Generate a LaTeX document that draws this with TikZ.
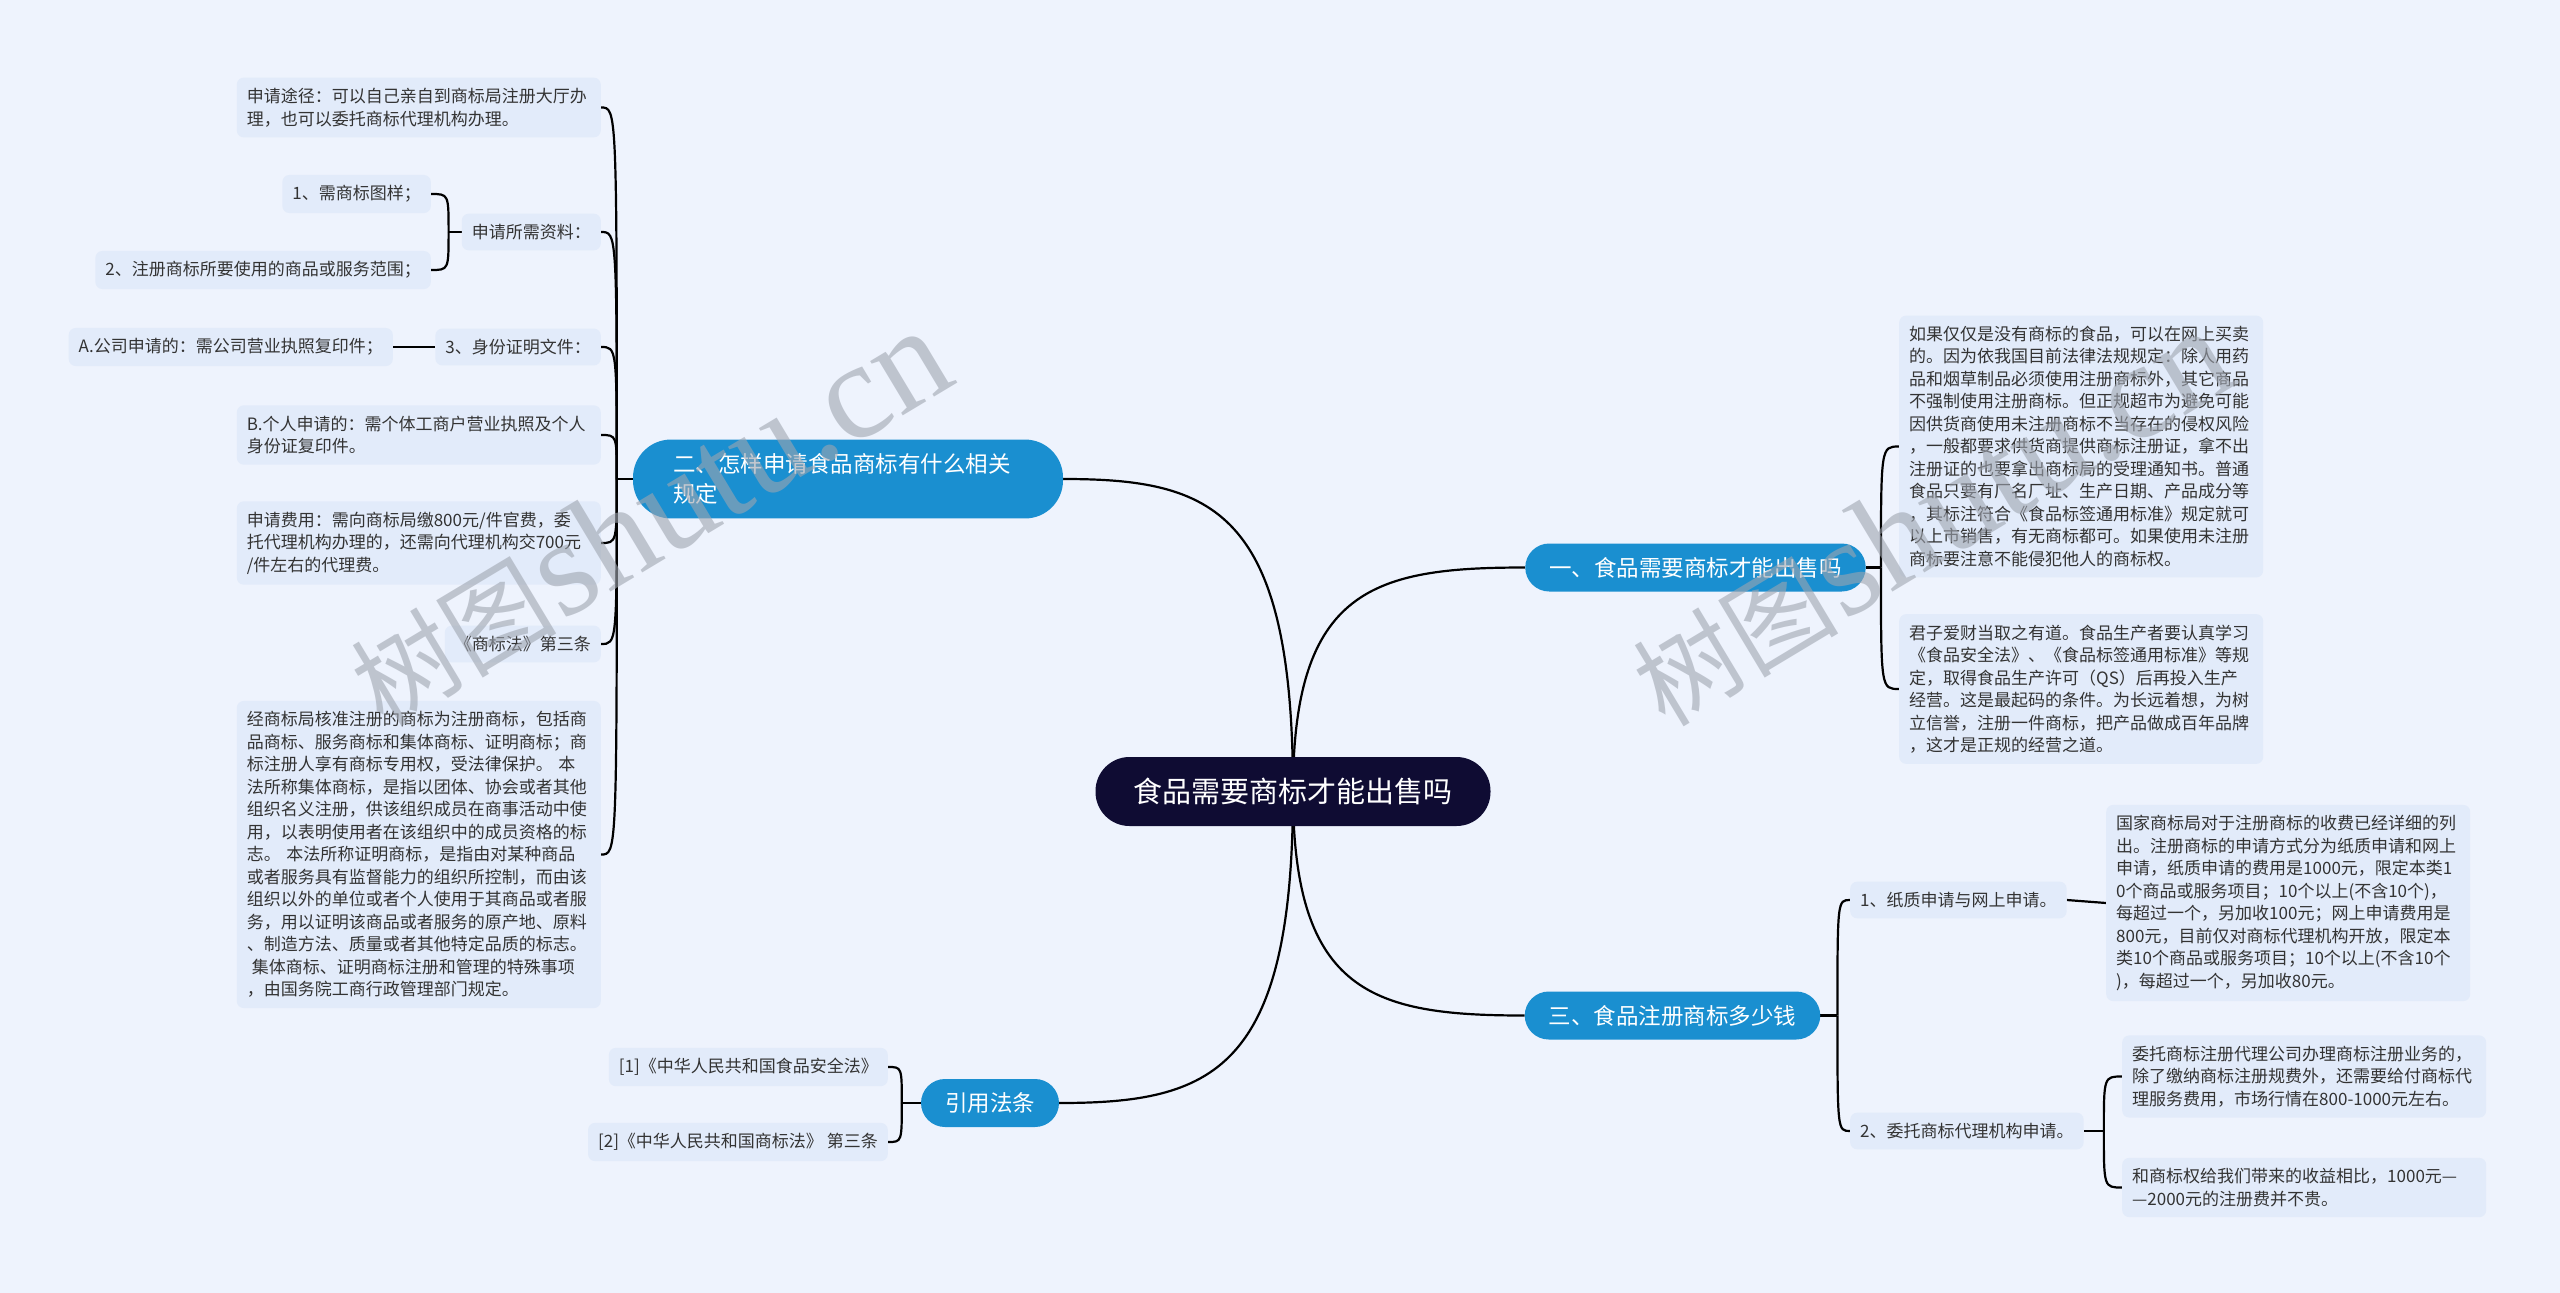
\documentclass[tikz,border=0pt]{standalone}
\usepackage{fontspec}
\setmainfont{Noto Sans CJK SC}
\newfontfamily\marcafont{Liberation Serif}
\usetikzlibrary{positioning,backgrounds}

\definecolor{fondo}{HTML}{EEF3FD}
\definecolor{hojafill}{HTML}{E2EBFA}
\definecolor{ramafill}{HTML}{1A8FD0}
\definecolor{raizfill}{HTML}{0F0C33}
\definecolor{texto}{HTML}{333333}
\definecolor{marca}{HTML}{9FA5B0}

\tikzset{
  raiz/.style={fill=raizfill, text=white, rounded corners=34pt, minimum height=69pt, inner xsep=38pt, font=\fontsize{29}{34}\selectfont},
  rama/.style={fill=ramafill, text=white, rounded corners=24pt, minimum height=48pt, inner xsep=24pt, font=\fontsize{22.5}{30}\selectfont},
  hoja/.style={fill=hojafill, text=texto, rounded corners=7pt, inner xsep=10pt, inner ysep=10.5pt, align=left, font=\fontsize{17}{22.5}\selectfont},
  hojaancha/.style={hoja, text width=344pt},
  conector/.style={line width=2.2pt, black},
  marcaagua/.style={rotate=31, text=marca, opacity=0.6, inner sep=0pt},
}

\begin{document}
\begin{tikzpicture}[x=1pt, y=-1pt]
  \useasboundingbox (0,0) rectangle (2560,1293);

  % Nodo central
  \node[raiz] (raiz) at (1293,791.5) {食品需要商标才能出售吗};

  % Ramas principales
  \node[rama, text width=350pt, inner xsep=40pt, inner ysep=14pt, rounded corners=38pt] (rama2) at (848,479) {二、怎样申请食品商标有什么相关\\规定};
  \node[rama] (rama1) at (1695.5,567.5) {一、食品需要商标才能出售吗};
  \node[rama] (rama3) at (1672.5,1015.5) {三、食品注册商标多少钱};
  \node[rama] (rama4) at (990,1103) {引用法条};

  % Hojas de la rama dos
  \node[hojaancha, anchor=east] (l1) at (601,107.5) {申请途径：可以自己亲自到商标局注册大厅办\\理，也可以委托商标代理机构办理。};
  \node[hoja, anchor=east] (l2) at (601,232) {申请所需资料：};
  \node[hoja, anchor=east] (l2a) at (431,194) {1、需商标图样；};
  \node[hoja, anchor=east] (l2b) at (431,270) {2、注册商标所要使用的商品或服务范围；};
  \node[hoja, anchor=east] (l3) at (601,347) {3、身份证明文件：};
  \node[hoja, anchor=east] (l3a) at (393,347) {A.公司申请的：需公司营业执照复印件；};
  \node[hojaancha, anchor=east] (l4) at (601,435) {B.个人申请的：需个体工商户营业执照及个人\\身份证复印件。};
  \node[hojaancha, anchor=east] (l5) at (601,543) {申请费用：需向商标局缴800元/件官费，委\\托代理机构办理的，还需向代理机构交700元\\/件左右的代理费。};
  \node[hoja, anchor=east] (l6) at (601,644) {《商标法》第三条};
  \node[hojaancha, anchor=east] (l7) at (601,854.5) {经商标局核准注册的商标为注册商标，包括商\\品商标、服务商标和集体商标、证明商标；商\\标注册人享有商标专用权，受法律保护。 本\\法所称集体商标，是指以团体、协会或者其他\\组织名义注册，供该组织成员在商事活动中使\\用，以表明使用者在该组织中的成员资格的标\\志。 本法所称证明商标，是指由对某种商品\\或者服务具有监督能力的组织所控制，而由该\\组织以外的单位或者个人使用于其商品或者服\\务，用以证明该商品或者服务的原产地、原料\\、制造方法、质量或者其他特定品质的标志。\\\hspace*{5pt}集体商标、证明商标注册和管理的特殊事项\\，由国务院工商行政管理部门规定。};

  % Hojas de la rama uno
  \node[hojaancha, anchor=west] (r1a) at (1899,446.5) {如果仅仅是没有商标的食品，可以在网上买卖\\的。因为依我国目前法律法规规定：除人用药\\品和烟草制品必须使用注册商标外，其它商品\\不强制使用注册商标。但正规超市为避免可能\\因供货商使用未注册商标不当存在的侵权风险\\，一般都要求供货商提供商标注册证，拿不出\\注册证的也要拿出商标局的受理通知书。普通\\食品只要有厂名厂址、生产日期、产品成分等\\，其标注符合《食品标签通用标准》规定就可\\以上市销售，有无商标都可。如果使用未注册\\商标要注意不能侵犯他人的商标权。};
  \node[hojaancha, anchor=west] (r1b) at (1899,689) {君子爱财当取之有道。食品生产者要认真学习\\《食品安全法》、《食品标签通用标准》等规\\定，取得食品生产许可（QS）后再投入生产\\经营。这是最起码的条件。为长远着想，为树\\立信誉，注册一件商标，把产品做成百年品牌\\，这才是正规的经营之道。};

  % Hojas de la rama tres
  \node[hoja, anchor=west] (r3a) at (1850,900) {1、纸质申请与网上申请。};
  \node[hojaancha, anchor=west] (r3a1) at (2106,903) {国家商标局对于注册商标的收费已经详细的列\\出。注册商标的申请方式分为纸质申请和网上\\申请，纸质申请的费用是1000元，限定本类1\\0个商品或服务项目；10个以上(不含10个)，\\每超过一个，另加收100元；网上申请费用是\\800元，目前仅对商标代理机构开放，限定本\\类10个商品或服务项目；10个以上(不含10个\\)，每超过一个，另加收80元。};
  \node[hoja, anchor=west] (r3b) at (1850,1131) {2、委托商标代理机构申请。};
  \node[hojaancha, anchor=west] (r3b1) at (2122,1076.5) {委托商标注册代理公司办理商标注册业务的，\\除了缴纳商标注册规费外，还需要给付商标代\\理服务费用，市场行情在800-1000元左右。};
  \node[hojaancha, anchor=west] (r3b2) at (2122,1187.5) {和商标权给我们带来的收益相比，1000元—\\—2000元的注册费并不贵。};

  % Hojas de la rama cuatro
  \node[hoja, anchor=east] (b4a) at (888,1067) {[1]《中华人民共和国食品安全法》};
  \node[hoja, anchor=east] (b4b) at (888,1142) {[2]《中华人民共和国商标法》 第三条};

  % Puntos de union
  \coordinate[left=16pt of rama2.west] (j2);
  \coordinate[right=15pt of rama1.east] (j1);
  \coordinate[right=17pt of rama3.east] (j3);
  \coordinate[left=19pt of rama4.west] (j4);
  \coordinate[left=13pt of l2.west] (j22);
  \coordinate[right=20pt of r3b.east] (j3b);

  \begin{pgfonlayer}{background}
    % Fondo
    \fill[fondo] (0,0) rectangle (2560,1293);
    % Conectores del nodo central
    \draw[conector] (raiz.center) .. controls +(0,-282) and +(150,0) .. (rama2.east);
    \draw[conector] (raiz.center) .. controls +(0,-203) and +(-151,0) .. (rama1.west);
    \draw[conector] (raiz.center) .. controls +(0,202) and +(-151,0) .. (rama3.west);
    \draw[conector] (raiz.center) .. controls +(0,280) and +(153,0) .. (rama4.east);
    % Llaves hacia la izquierda
    \draw[conector] (rama2.west) -- (j2);
    \foreach \h in {l1,l2,l3,l4,l5,l6,l7}
      \draw[conector] (j2) .. controls (j2 |- \h.east) .. (\h.east);
    \draw[conector] (l2.west) -- (j22);
    \foreach \h in {l2a,l2b}
      \draw[conector] (j22) .. controls (j22 |- \h.east) .. (\h.east);
    \draw[conector] (l3.west) -- (l3a.east);
    \draw[conector] (rama4.west) -- (j4);
    \foreach \h in {b4a,b4b}
      \draw[conector] (j4) .. controls (j4 |- \h.east) .. (\h.east);
    % Llaves hacia la derecha
    \draw[conector] (rama1.east) -- (j1);
    \foreach \h in {r1a,r1b}
      \draw[conector] (j1) .. controls (j1 |- \h.west) .. (\h.west);
    \draw[conector] (rama3.east) -- (j3);
    \foreach \h in {r3a,r3b}
      \draw[conector] (j3) .. controls (j3 |- \h.west) .. (\h.west);
    \draw[conector] (r3a.east) -- (r3a1.west);
    \draw[conector] (r3b.east) -- (j3b);
    \foreach \h in {r3b1,r3b2}
      \draw[conector] (j3b) .. controls (j3b |- \h.west) .. (\h.west);
  \end{pgfonlayer}

  % Marcas de agua
  \node[marcaagua] (marca1) at (649,518) {{\fontsize{103}{103}\selectfont 树图} {\marcafont\fontsize{138}{138}\selectfont shutu.cn}};
  \node[marcaagua] (marca2) at (1931,518) {{\fontsize{103}{103}\selectfont 树图} {\marcafont\fontsize{138}{138}\selectfont shutu.cn}};
\end{tikzpicture}
\end{document}
